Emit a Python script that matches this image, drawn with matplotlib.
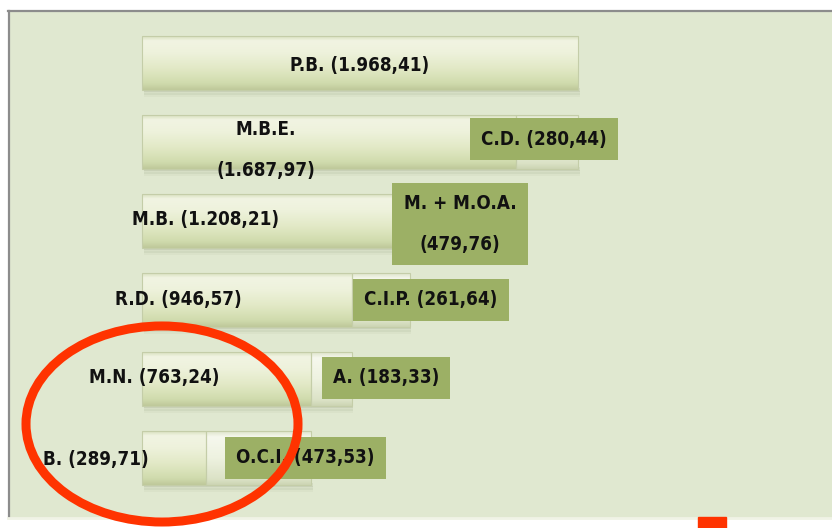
import numpy as np
import matplotlib.pyplot as plt
from matplotlib.colors import LinearSegmentedColormap
from matplotlib.patches import Ellipse, Rectangle
from matplotlib.lines import Line2D

# values shown in the chart
totals = [1968.41, 1687.97, 1208.21, 946.57, 763.24, 289.71]
total_labels = ['P.B. (1.968,41)', 'M.B.E.\n(1.687,97)', 'M.B. (1.208,21)',
                'R.D. (946,57)', 'M.N. (763,24)', 'B. (289,71)']
deductions = [280.44, 479.76, 261.64, 183.33, 473.53]
deduction_labels = ['C.D. (280,44)', 'M. + M.O.A.\n(479,76)', 'C.I.P. (261,64)',
                    'A. (183,33)', 'O.C.I. (473,53)']

# layout (pixels of the 832x528 picture)
PX = 0.2215          # pixels per unit
X0 = 142             # pixel where 0 sits
ROW0, ROWSTEP = 63, 79
label_px = [360, 266, 206, 178, 154, 96]
label_dy = [2, 8, -1, 0, -1, 2]
box_px = [544, 460, 431, 386, 305]
box_dy = [-3, 3, 0, -1, 0]

def px2x(p):
    return (p - X0) / PX

def dy2row(d):
    return d / ROWSTEP

plt.rcParams['font.family'] = ['DejaVu Sans']

fig = plt.figure(figsize=(8.32, 5.28), dpi=100)
fig.patch.set_facecolor('white')
ax = fig.add_axes([0, 0, 1, 1])
ax.axis('off')

# background panel
panel = Rectangle((8 / 832, 10 / 528), 824 / 832, 507 / 528, transform=fig.transFigure,
                  facecolor='#e0e8d0', edgecolor='none', zorder=-5)
fig.add_artist(panel)
fig.add_artist(Line2D([8 / 832, 1], [517 / 528, 517 / 528], transform=fig.transFigure,
                      color='#8c8c8c', lw=1.6, zorder=-4))
fig.add_artist(Line2D([9 / 832, 9 / 832], [10 / 528, 517 / 528], transform=fig.transFigure,
                      color='#8c8c8c', lw=1.6, zorder=-4))
fig.add_artist(Line2D([8 / 832, 1], [10 / 528, 10 / 528], transform=fig.transFigure,
                      color='#f0f3e6', lw=2, zorder=-4))

rows = np.arange(len(totals))
h = 0.68

bar_cmap = LinearSegmentedColormap.from_list('bar', [
    (0.0, '#d9e1c0'), (0.08, '#f1f4e2'), (0.3, '#eef2dc'),
    (0.6, '#e2e9c6'), (0.88, '#d0dbad'), (1.0, '#bfc99b')])
end_cmap = LinearSegmentedColormap.from_list('end', [
    (0.0, '#dfe5cc'), (0.1, '#f6f8ee'), (0.5, '#eef2e0'),
    (0.9, '#dbe2c6'), (1.0, '#cdd5b4')])
grad = np.linspace(0, 1, 64).reshape(-1, 1)

def gradient_bars(bars, cmap):
    for b in bars:
        x, y = b.get_x(), b.get_y()
        w, hh = b.get_width(), b.get_height()
        # soft shadow under the bar
        for k, a in enumerate([0.14, 0.10, 0.06]):
            ax.add_patch(Rectangle((x + 8, y + hh - 0.02 + k * 0.03), w, 0.05,
                                   color='#7f8a66', alpha=a, lw=0, zorder=1))
        im = ax.imshow(grad, cmap=cmap, aspect='auto', origin='upper',
                       extent=(x, x + w, y + hh, y), zorder=2)
        im.set_clip_path(b)

bars = ax.barh(rows, totals, height=h, color='none', edgecolor='#c4cda8',
               linewidth=0.8, zorder=3)
gradient_bars(bars, bar_cmap)
ends = ax.barh(rows[1:], deductions, left=totals[1:], height=h, color='none',
               edgecolor='#c4cda8', linewidth=0.8, zorder=3)
gradient_bars(ends, end_cmap)

txt = dict(fontsize=13.5, fontweight='bold', fontstretch='condensed', color='#111111',
           ha='center', va='center', linespacing=2.45, zorder=6)
for i, lab in enumerate(total_labels):
    ax.text(px2x(label_px[i]), rows[i] + dy2row(label_dy[i]), lab, **txt)

for i, lab in enumerate(deduction_labels):
    ax.text(px2x(box_px[i]), rows[i + 1] + dy2row(box_dy[i]), lab,
            bbox=dict(boxstyle='square,pad=0.6', fc='#9cb065', ec='none'), **txt)

ax.set_xlim(px2x(0), px2x(832))
ax.set_ylim(dy2row(528 - ROW0), dy2row(-ROW0))

# red highlight ellipse and marker
fig.add_artist(Ellipse((162 / 832, 1 - 424 / 528), 272 / 832, 196 / 528,
                       transform=fig.transFigure, fill=False, ec='#ff3300',
                       lw=6.5, zorder=10))
fig.add_artist(Rectangle((698 / 832, 0), 28 / 832, 11 / 528, transform=fig.transFigure,
                         color='#ff3300', zorder=10))

fig.savefig('out.png', dpi=100)
